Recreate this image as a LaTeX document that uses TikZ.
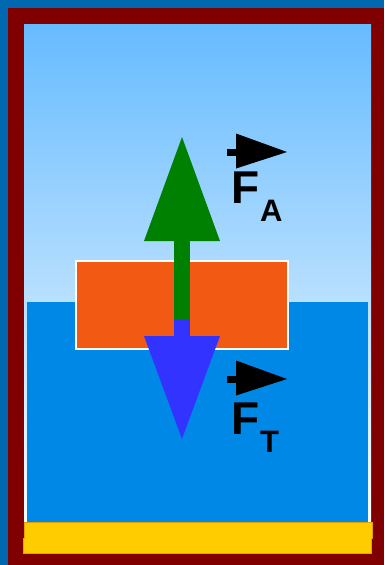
\documentclass[tikz,border=0pt]{standalone}
\usepackage{fontspec}
\setmainfont{Liberation Sans}
\usetikzlibrary{calc}
\definecolor{outerblue}{RGB}{0,104,176}
\definecolor{framered}{RGB}{128,0,0}
\definecolor{skytop}{RGB}{102,187,255}
\definecolor{water}{RGB}{0,136,230}
\definecolor{sand}{RGB}{255,204,0}
\definecolor{sandedge}{RGB}{230,160,0}
\definecolor{block}{RGB}{242,89,18}
\definecolor{liftgreen}{RGB}{0,128,0}
\definecolor{weightblue}{RGB}{51,51,255}

\begin{document}
\begin{tikzpicture}[x=1pt, y=-1pt,
  letter/.style={inner sep=0pt, outer sep=0pt, font=\bfseries\fontsize{46}{46}\selectfont},
  index/.style={inner sep=0pt, outer sep=0pt, font=\bfseries\fontsize{31}{31}\selectfont},
]
  \useasboundingbox (0,0) rectangle (384,565);
  \coordinate (top) at (182,137);
  \coordinate (mid) at (182,319);
  \coordinate (bot) at (182,439);
  \fill[outerblue] (0,0) rectangle (384,565);
  \fill[framered] (8,8) rectangle (384,565);
  \shade[top color=skytop, bottom color=white] (24,24) rectangle (371,538);
  \fill[water] (27,302) rectangle (368,522);
  \filldraw[fill=sand, draw=sandedge, line width=0.6pt] (24,522) -- (372,522) -- (372,538) -- (371,538)
    -- (371,553) -- (23,553) -- (23,538) -- (24,538) -- cycle;
  \filldraw[fill=block, draw=white, line width=1.5pt] (76,261) rectangle (288,349);
  % 浮力 F_A 与重力 F_T
  \fill[liftgreen] ($(mid)+(-8,0)$) rectangle ($(top)+(8,104)$);
  \fill[liftgreen] (top) -- ++(38,104) -- ++(-76,0) -- cycle;
  \fill[weightblue] ($(mid)+(-8,0)$) rectangle ($(mid)+(8,17)$);
  \fill[weightblue] (bot) -- ++(38,-103) -- ++(-76,0) -- cycle;
  \foreach \s/\yb/\ya in {A/203/152, T/434/379} {
    \node[letter, anchor=base west] (F\s) at (231,\yb) {F};
    \node[index, anchor=base west] (sub\s) at (260,\yb+18.5) {\s};
    \fill (227,\ya-3.5) rectangle (237,\ya+3.5);
    \fill (236,\ya-18.5) -- (287,\ya) -- (236,\ya+16.5) -- cycle;
  }
\end{tikzpicture}
\end{document}
